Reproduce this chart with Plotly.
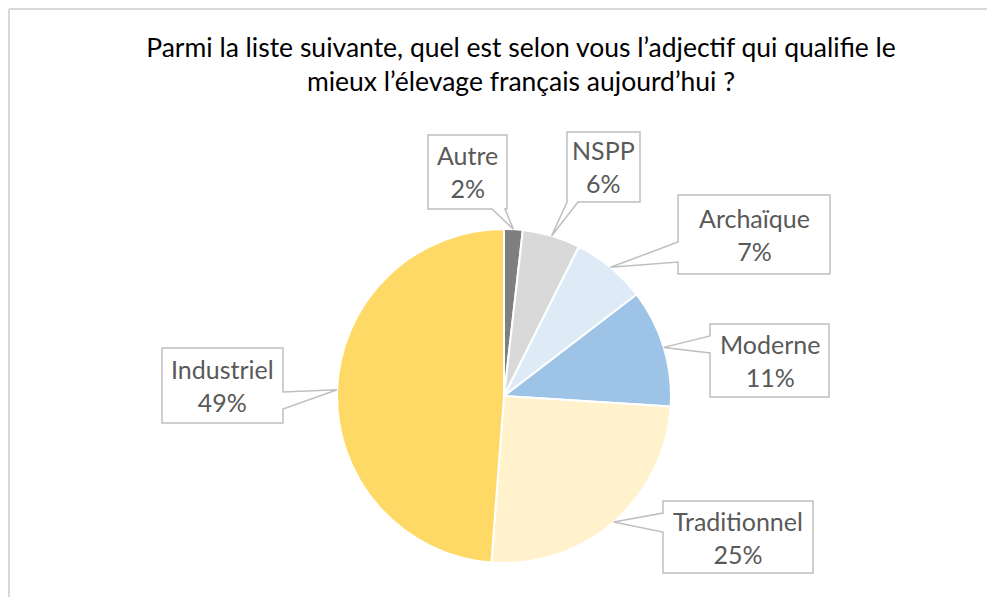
import math
import plotly.graph_objects as go

# data
labels = ['Autre', 'NSPP', 'Archaïque', 'Moderne', 'Traditionnel', 'Industriel']
values = [1.8, 5.6, 7.2, 11.4, 25.2, 48.8]
colors = ['#7f7f7f', '#d9d9d9', '#deebf7', '#9dc3e6', '#fff2cc', '#ffd966']

title = 'Parmi la liste suivante, quel est selon vous l’adjectif qui qualifie le<br>mieux l’élevage français aujourd’hui ?'

W, H = 995, 597
OFF = 8  # page body margin
CX, CY, R = 504, 396, 167  # pie centre / radius in page pixels

# callout boxes (pixels): x0, y0, x1, y1, side of tail, tail base start, tail base end
boxes = {
    'Autre':        (428, 135, 507, 209, 'bottom', 492, 505),
    'NSPP':         (567, 132, 640, 202, 'bottom', 567, 578),
    'Archaïque':    (678, 195, 830, 274, 'left', 242, 262),
    'Moderne':      (710, 324, 829, 397, 'left', 336, 353),
    'Traditionnel': (663, 501, 813, 573, 'left', 513, 532),
    'Industriel':   (162, 348, 283, 423, 'right', 392, 409),
}


def px(x):
    return (x - OFF) / W


def py(y):
    return 1 - (y - OFF) / H


def callout_path(b, tip):
    x0, y0, x1, y1, side, t0, t1 = b
    tx, ty = tip
    if side == 'bottom':
        pts = [(x0, y0), (x1, y0), (x1, y1), (t1, y1), (tx, ty), (t0, y1), (x0, y1)]
    elif side == 'left':
        pts = [(x0, y0), (x1, y0), (x1, y1), (x0, y1), (x0, t1), (tx, ty), (x0, t0)]
    else:
        pts = [(x0, y0), (x1, y0), (x1, t0), (tx, ty), (x1, t1), (x1, y1), (x0, y1)]
    return 'M ' + ' L '.join(f'{px(x):.5f},{py(y):.5f}' for x, y in pts) + ' Z'


fig = go.Figure(go.Pie(
    labels=labels, values=values, sort=False, direction='clockwise', rotation=0,
    marker=dict(colors=colors, line=dict(color='white', width=2)),
    textinfo='none', showlegend=False, hoverinfo='label+percent',
    domain=dict(x=[px(CX - R), px(CX + R)], y=[py(CY + R), py(CY - R)]),
))

shapes = [
    dict(type='line', xref='paper', yref='paper', x0=px(9), x1=1, y0=py(9), y1=py(9),
         line=dict(color='#d9d9d9', width=2)),
    dict(type='line', xref='paper', yref='paper', x0=px(9), x1=px(9), y0=py(9), y1=0,
         line=dict(color='#d9d9d9', width=2)),
]
annotations = []
total = sum(values)
cum = 0
for lab, v in zip(labels, values):
    mid = (cum + v / 2) / total * 2 * math.pi
    cum += v
    tip = (CX + R * math.sin(mid), CY - R * math.cos(mid))
    b = boxes[lab]
    shapes.append(dict(type='path', xref='paper', yref='paper', path=callout_path(b, tip),
                       fillcolor='white', line=dict(color='#bfbfbf', width=1.5), layer='above'))
    annotations.append(dict(
        xref='paper', yref='paper', x=px((b[0] + b[2]) / 2), y=py((b[1] + b[3]) / 2),
        xanchor='center', yanchor='middle', showarrow=False,
        text=f'{lab}<br>{round(v / total * 100)}%',
        font=dict(family='Lato', size=25, color='#595959'),
    ))

fig.update_layout(
    width=W, height=H, autosize=False,
    margin=dict(l=0, r=0, t=0, b=0),
    paper_bgcolor='white', plot_bgcolor='white',
    title=dict(text=title, x=px(521), xanchor='center', y=py(56.5), yanchor='middle',
               font=dict(family='Lato', size=26.5, color='black')),
    shapes=shapes, annotations=annotations,
)

fig.write_html('out.html')
